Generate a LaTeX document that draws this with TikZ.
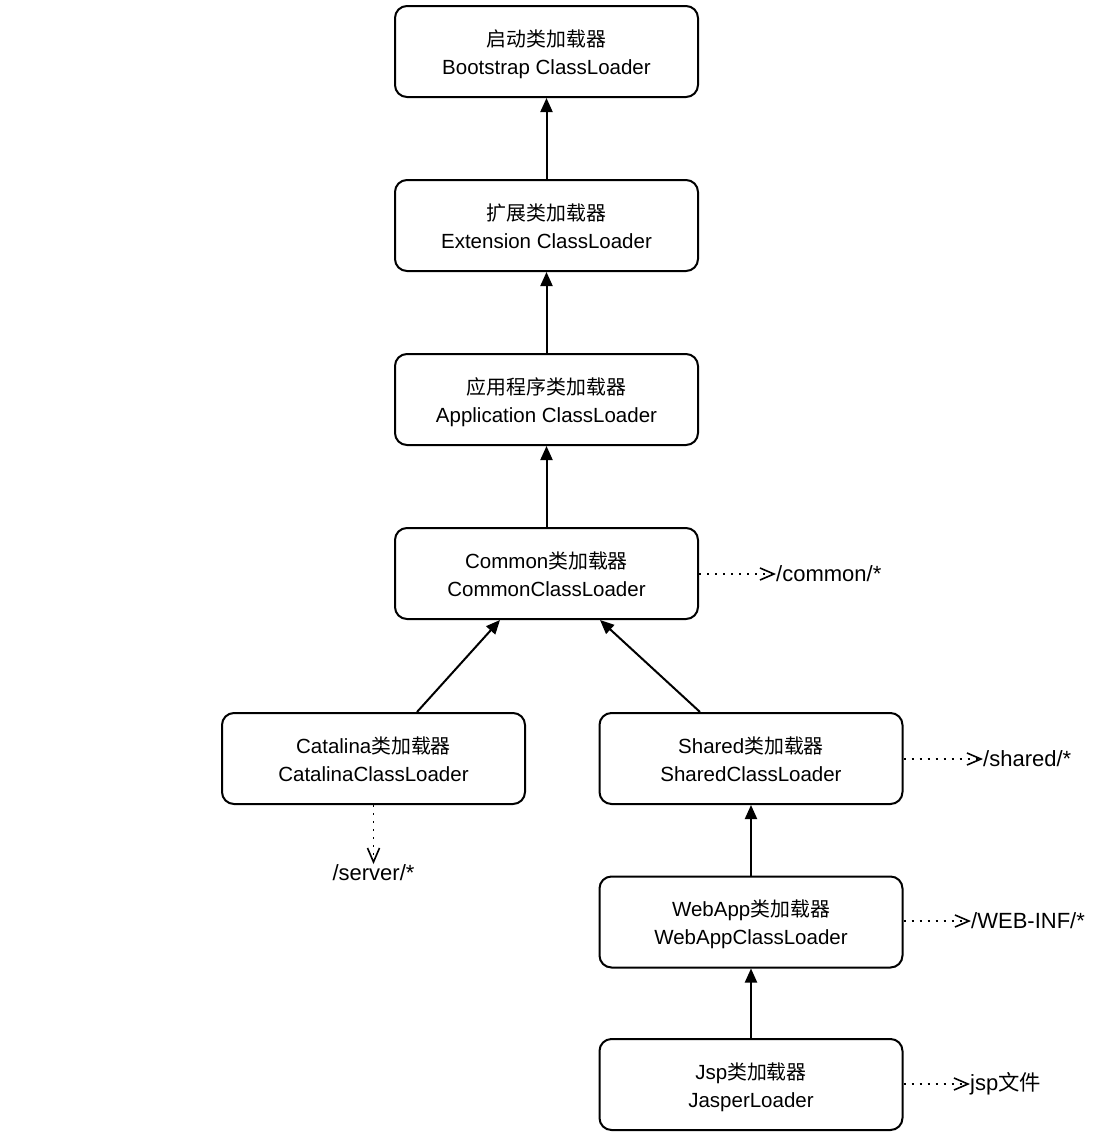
\documentclass[tikz,border=0pt]{standalone}
\usepackage{fontspec}
\setmainfont{Liberation Sans}
\newfontfamily\cjk{Noto Sans CJK SC}[Scale=0.97]
\usetikzlibrary{arrows.meta}
\begin{document}
\begin{tikzpicture}[x=1pt,y=-1pt,
  box/.style={draw, line width=2pt, rounded corners=12pt, minimum width=303pt, minimum height=91pt, align=center, font=\fontsize{20.5}{28}\selectfont, inner sep=0pt, text depth=0pt, text height=45pt},
  up/.style={line width=2pt, -{Triangle[length=14pt,width=12pt]}},
  dep/.style={line width=1.6pt, dash pattern=on 2pt off 6pt, -{Straight Barb[length=14pt,width=12pt,line width=1.6pt]}},
  lbl/.style={font=\fontsize{22}{26}\selectfont, inner sep=0pt}]
\useasboundingbox (0,0) rectangle (1096,1146);
\node[box] (boot) at (546.5,51.5) {{\cjk 启动类加载器}\\Bootstrap ClassLoader};
\node[box] (ext) at (546.5,225.5) {{\cjk 扩展类加载器}\\Extension ClassLoader};
\node[box] (app) at (546.5,399.5) {{\cjk 应用程序类加载器}\\Application ClassLoader};
\node[box] (com) at (546.5,573.5) {Common{\cjk 类加载器}\\CommonClassLoader};
\node[box] (cat) at (373.5,758.5) {Catalina{\cjk 类加载器}\\CatalinaClassLoader};
\node[box] (sha) at (751,758.5) {Shared{\cjk 类加载器}\\SharedClassLoader};
\node[box] (web) at (751,922) {WebApp{\cjk 类加载器}\\WebAppClassLoader};
\node[box] (jsp) at (751,1084.5) {Jsp{\cjk 类加载器}\\JasperLoader};
\draw[up] (ext.north) -- (boot.south);
\draw[up] (app.north) -- (ext.south);
\draw[up] (com.north) -- (app.south);
\draw[up] (cat.north -| 417,0) -- (com.south -| 500,0);
\draw[up] (sha.north -| 700,0) -- (com.south -| 600,0);
\draw[up] (web.north) -- (sha.south);
\draw[up] (jsp.north) -- (web.south);
\node[lbl, anchor=west] (lcom) at (776,574) {/common/*};
\node[lbl, anchor=west] (lsha) at (983,759) {/shared/*};
\node[lbl, anchor=west] (lweb) at (971,921) {/WEB-INF/*};
\node[lbl, anchor=west] (ljsp) at (970,1084) {jsp{\cjk 文件}};
\node[lbl, anchor=north] (lcat) at (373.5,864) {/server/*};
\draw[dep] (com.east |- 0,574) -- (lcom.west);
\draw[dep] (sha.east |- 0,759) -- (lsha.west);
\draw[dep] (web.east |- 0,921) -- (lweb.west);
\draw[dep] (jsp.east |- 0,1084) -- (ljsp.west);
\draw[dep] (cat.south) -- (lcat.north);
\end{tikzpicture}
\end{document}
